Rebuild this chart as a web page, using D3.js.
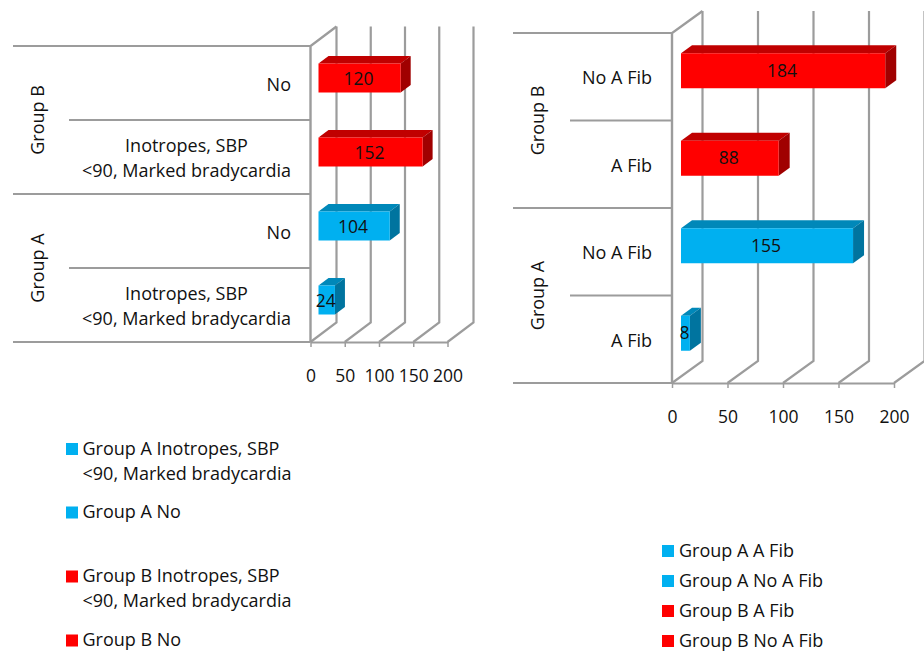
<!DOCTYPE html>
<html>
<head>
<meta charset="utf-8">
<script src="https://cdnjs.cloudflare.com/ajax/libs/d3/7.8.5/d3.min.js"></script>
<style>
  html, body { margin: 0; padding: 0; background: #fff; }
  svg { display: block; }
  text { font-family: "Open Sans", sans-serif; fill: #111; }
</style>
</head>
<body>
<svg id="chart" width="924" height="652"></svg>
<script>
// left chart
var leftGroups = ["Group A", "Group A", "Group B", "Group B"];
var leftCategories = [["Inotropes, SBP", "<90, Marked bradycardia"], ["No"], ["Inotropes, SBP", "<90, Marked bradycardia"], ["No"]];
var leftValues = [24, 104, 152, 120];
var leftLegend = [["Group A Inotropes, SBP", "<90, Marked bradycardia"], ["Group A No"], ["Group B Inotropes, SBP", "<90, Marked bradycardia"], ["Group B No"]];

// right chart
var rightGroups = ["Group A", "Group A", "Group B", "Group B"];
var rightCategories = [["A Fib"], ["No A Fib"], ["A Fib"], ["No A Fib"]];
var rightValues = [8, 155, 88, 184];
var rightLegend = [["Group A A Fib"], ["Group A No A Fib"], ["Group B A Fib"], ["Group B No A Fib"]];

var xTicks = [0, 50, 100, 150, 200];

var colors = {
    "Group A": { front: "#00b0f0", top: "#0088b9", side: "#00749f" },
    "Group B": { front: "#ff0000", top: "#c00000", side: "#a00000" }
};
var gridColor = "#9c9c9c";
var numberFont = 17.5; // digits run a bit narrower than the labels

var svg = d3.select("#chart");

function polygon(points) {
    return d3.line()(points) + "Z";
}

function drawPanel(o) {
    var g = svg.append("g");

    var x = d3.scaleLinear().domain([0, 200]).range([o.x0, o.x1]);
    var y = d3.scaleBand().domain(d3.range(o.values.length)).range([o.bottom, o.top]);
    var step = y.step();

    // back wall gridlines and the floor diagonals
    xTicks.forEach(function(t) {
        g.append("path")
            .attr("d", d3.line()([
                [x(t), o.bottom],
                [x(t) + o.backX, o.bottom - o.backY],
                [x(t) + o.backX, o.top - o.backY]
            ]))
            .attr("fill", "none")
            .attr("stroke", gridColor)
            .attr("stroke-width", 2.2);
    });

    // front wall
    g.append("path")
        .attr("d", d3.line()([
            [x(0) + o.backX, o.top - o.backY],
            [x(0), o.top],
            [x(0), o.bottom]
        ]))
        .attr("fill", "none")
        .attr("stroke", gridColor)
        .attr("stroke-width", 2.4);

    // category separators, long ones for the groups
    d3.range(o.values.length + 1).forEach(function(i) {
        var yy = o.bottom - i * step;
        g.append("line")
            .attr("x1", i % 2 == 0 ? o.longLeft : o.shortLeft)
            .attr("x2", x(0))
            .attr("y1", yy)
            .attr("y2", yy)
            .attr("stroke", gridColor)
            .attr("stroke-width", 1.8);
    });

    // axis, floor line and tick labels
    var axis = d3.axisBottom(x).tickValues(xTicks).tickSize(5).tickPadding(o.tickPadding).tickSizeOuter(0);
    var ax = g.append("g").attr("transform", "translate(0," + o.bottom + ")").call(axis);
    ax.select(".domain").attr("stroke", gridColor).attr("stroke-width", 2.2);
    ax.selectAll(".tick line").attr("stroke", gridColor).attr("stroke-width", 1.5);
    ax.selectAll(".tick text").style("font-family", "Open Sans").style("font-size", numberFont + "px").attr("fill", "#111");

    // bars
    var bars = g.selectAll(".bar").data(o.values).enter().append("g").attr("class", "bar");
    function bx0() { return x(0) + o.barOffset; }
    function bx1(d) { return x(d) + o.barOffset; }
    function by0(d, i) { return y(i) + (step - o.barHeight) / 2 + o.barShift; }
    function by1(d, i) { return by0(d, i) + o.barHeight; }

    bars.append("path")
        .attr("d", function(d, i) {
            return polygon([[bx0(), by0(d, i)], [bx0() + o.depthX, by0(d, i) - o.depthY], [bx1(d) + o.depthX, by0(d, i) - o.depthY], [bx1(d), by0(d, i)]]);
        })
        .attr("fill", function(d, i) { return colors[o.groups[i]].top; });
    bars.append("path")
        .attr("d", function(d, i) {
            return polygon([[bx1(d), by0(d, i)], [bx1(d) + o.depthX, by0(d, i) - o.depthY], [bx1(d) + o.depthX, by1(d, i) - o.depthY], [bx1(d), by1(d, i)]]);
        })
        .attr("fill", function(d, i) { return colors[o.groups[i]].side; });
    bars.append("rect")
        .attr("x", bx0())
        .attr("y", by0)
        .attr("width", function(d) { return bx1(d) - bx0(); })
        .attr("height", o.barHeight)
        .attr("fill", function(d, i) { return colors[o.groups[i]].front; });
    bars.append("text")
        .attr("x", function(d) { return (bx0() + bx1(d)) / 2 - 1; })
        .attr("y", function(d, i) { return (by0(d, i) + by1(d, i)) / 2 + o.valueShift; })
        .attr("dy", "0.35em")
        .attr("text-anchor", "middle")
        .style("font-size", numberFont + "px")
        .text(function(d) { return d; });

    // category labels, two line ones are centred on each other
    o.categories.forEach(function(lines, i) {
        var cy = y(i) + step / 2 + o.labelShift;
        var t = g.append("text")
            .style("font-size", o.fontSize + "px")
            .attr("text-anchor", lines.length > 1 ? "middle" : "end");
        lines.forEach(function(line, k) {
            t.append("tspan")
                .attr("x", lines.length > 1 ? o.labelRight - o.labelWrapWidth / 2 : o.labelRight)
                .attr("y", cy + (k - (lines.length - 1) / 2) * o.lineHeight)
                .attr("dy", "0.35em")
                .text(line);
        });
    });

    // group labels
    d3.groups(d3.range(o.groups.length), function(i) { return o.groups[i]; }).forEach(function(e) {
        var cy = d3.mean(e[1], function(i) { return y(i) + step / 2; });
        g.append("text")
            .attr("transform", "translate(" + o.groupX + "," + cy + ") rotate(-90)")
            .attr("text-anchor", "middle")
            .attr("dy", "0.35em")
            .style("font-size", o.fontSize + "px")
            .text(e[0]);
    });

    // legend
    o.legend.forEach(function(lines, i) {
        var top = o.legendY[i];
        g.append("rect")
            .attr("x", o.legendX)
            .attr("y", top)
            .attr("width", 12)
            .attr("height", 12)
            .attr("fill", colors[o.groups[i]].front);
        lines.forEach(function(line, k) {
            g.append("text")
                .attr("x", o.legendX + o.legendGap)
                .attr("y", top + 5.5 + k * o.lineHeight)
                .attr("dy", "0.35em")
                .style("font-size", o.legendFont + "px")
                .text(line);
        });
    });
}

drawPanel({
    groups: leftGroups, categories: leftCategories, values: leftValues, legend: leftLegend,
    x0: 310.5, x1: 447.5, top: 46, bottom: 342,
    backX: 26, backY: 19.5,
    barOffset: 8, barHeight: 29, barShift: -5, depthX: 10, depthY: 7.5, valueShift: 1,
    longLeft: 13, shortLeft: 69, tickPadding: 22.5,
    labelRight: 291, labelWrapWidth: 209, labelShift: 1.5, lineHeight: 25, groupX: 38, fontSize: 18,
    legendX: 66, legendGap: 16.5, legendY: [443, 506.5, 570.5, 634.5], legendFont: 18
});

drawPanel({
    groups: rightGroups, categories: rightCategories, values: rightValues, legend: rightLegend,
    x0: 672, x1: 894, top: 33, bottom: 383,
    backX: 30.5, backY: 22,
    barOffset: 9, barHeight: 35, barShift: -6, depthX: 11, depthY: 8, valueShift: 0,
    longLeft: 513, shortLeft: 570, tickPadding: 23,
    labelRight: 652, labelWrapWidth: 0, labelShift: 1, lineHeight: 25, groupX: 538, fontSize: 18,
    legendX: 662, legendGap: 17, legendY: [545, 575, 605, 635], legendFont: 18
});
</script>
</body>
</html>
